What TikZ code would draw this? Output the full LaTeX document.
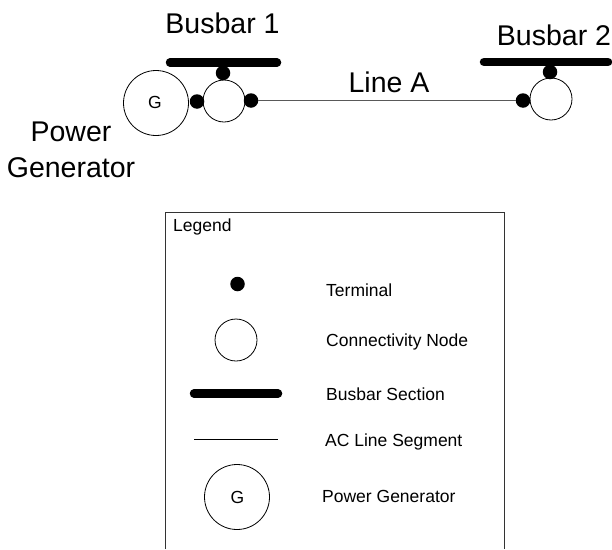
\documentclass[tikz,border=0pt]{standalone}
\usepackage{fontspec}
\setmainfont{Liberation Sans}
\tikzset{
  terminal/.style={circle,fill=black,draw=none,inner sep=0pt,minimum size=14.5pt},
  cnode/.style={circle,draw=black,line width=0.8pt,fill=white,inner sep=0pt,minimum size=42pt},
  gen/.style={circle,draw=black,line width=0.8pt,fill=white,inner sep=0pt,minimum size=65pt},
  gletter/.style={inner sep=0pt,anchor=base,font=\fontsize{17.5}{20}\selectfont,text=black},
  busbar/.style={line width=8.5pt,line cap=round,black},
  acline/.style={line width=0.9pt,black!65},
  biglabel/.style={inner sep=0pt,anchor=base,font=\fontsize{28.5}{36}\selectfont,text=black},
  smalllabel/.style={inner sep=0pt,anchor=base west,font=\fontsize{17.5}{20}\selectfont,text=black},
}
\begin{document}
\begin{tikzpicture}[x=1pt,y=-1pt]
\useasboundingbox (0,0) rectangle (612,549);
% top diagram
\coordinate (b1l) at (170,62.5); \coordinate (b1r) at (277,62.5);
\coordinate (b2l) at (484,62); \coordinate (b2r) at (608,62);
\draw[busbar] (b1l) -- (b1r);
\draw[busbar] (b2l) -- (b2r);
\node[gen] (g1) at (156,103) {};
\node[gletter] (g1t) at (155,108) {G};
\node[cnode] (cn1) at (224,101) {};
\node[cnode] (cn2) at (551,99) {};
\node[terminal] (t1top) at (223,73) {};
\node[terminal] (t1l) at (197,101.5) {};
\node[terminal] (t1r) at (251,100.5) {};
\node[terminal] (t2l) at (523,100.5) {};
\node[terminal] (t2top) at (550,72) {};
\draw[acline] (t1r) -- (t2l);
\node[biglabel] (lb1) at (222.5,33) {Busbar 1};
\node[biglabel] (lb2) at (554,45.7) {Busbar 2};
\node[biglabel] (la) at (389,92) {Line A};
\node[biglabel] (lp) at (71,141) {Power};
\node[biglabel] (lg) at (71,177) {Generator};
% legend
\draw[line width=0.8pt,black!80] (165,549) |- (504,212) -- (504,549);
\node[smalllabel] (lleg) at (173,231) {Legend};
\node[terminal] (kt) at (237.5,284) {};
\node[cnode] (kc) at (236,340) {};
\coordinate (kbl) at (194,393.5); \coordinate (kbr) at (278,393.5);
\draw[busbar] (kbl) -- (kbr);
\coordinate (kll) at (194,439); \coordinate (klr) at (278,439);
\draw[line width=0.8pt,black] (kll) -- (klr);
\node[gen] (kg) at (237,497) {};
\node[gletter] (kgt) at (237.5,503) {G};
\node[smalllabel] (l1) at (326,296.7) {Terminal};
\node[smalllabel] (l2) at (326,346) {Connectivity Node};
\node[smalllabel] (l3) at (326,400) {Busbar Section};
\node[smalllabel] (l4) at (325,446) {AC Line Segment};
\node[smalllabel] (l5) at (322,502.7) {Power Generator};
\end{tikzpicture}
\end{document}
